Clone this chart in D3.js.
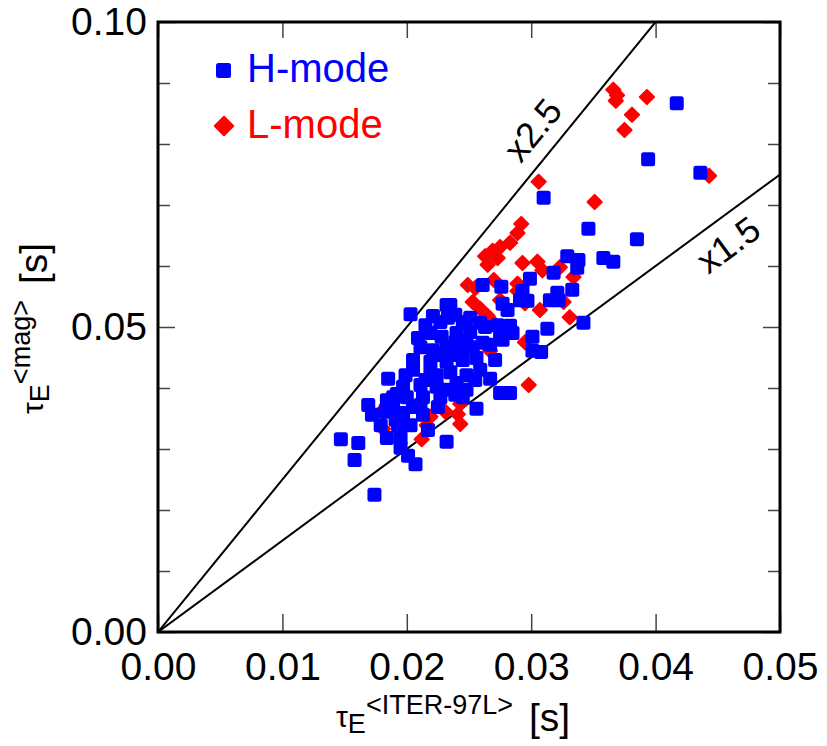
<!DOCTYPE html>
<html>
<head>
<meta charset="utf-8">
<script src="https://cdn.jsdelivr.net/npm/d3@7"></script>
<style>
  body { margin: 0; background: #fff; }
  svg text { font-family: "Liberation Sans", Arial, sans-serif; }
</style>
</head>
<body>
<svg id="chart" width="827" height="746"></svg>
<script>
// H-mode points (tau_E ITER-97L, tau_E mag) in seconds
const hX = [0.0417, 0.0394, 0.0436, 0.0310, 0.0346, 0.0385, 0.0358, 0.0366, 0.0329, 0.0338,
  0.0337, 0.0299, 0.0318, 0.0333, 0.0321, 0.0315, 0.0342, 0.0313, 0.0301, 0.0301,
  0.0308, 0.0261, 0.0276, 0.0293, 0.0297, 0.0277, 0.0281, 0.0235, 0.0259, 0.0283,
  0.0275, 0.0277, 0.0267, 0.0275, 0.0283, 0.0256, 0.0247, 0.0273, 0.0203, 0.0221,
  0.0232, 0.0233, 0.0245, 0.0219, 0.0228, 0.0240, 0.0251, 0.0211, 0.0221, 0.0232,
  0.0243, 0.0253, 0.0261, 0.0205, 0.0219, 0.0232, 0.0245, 0.0256, 0.0205, 0.0219,
  0.0235, 0.0248, 0.0185, 0.0197, 0.0211, 0.0224, 0.0240, 0.0248, 0.0189, 0.0200,
  0.0213, 0.0227, 0.0245, 0.0189, 0.0205, 0.0225, 0.0197, 0.0213, 0.0169, 0.0172,
  0.0147, 0.0161, 0.0158, 0.0174, 0.0184, 0.0195, 0.0195, 0.0201, 0.0207, 0.0232,
  0.0183, 0.0184, 0.0192, 0.0263, 0.0285, 0.0322, 0.0291, 0.0227, 0.0239, 0.0215,
  0.0231, 0.0191, 0.0179, 0.0203, 0.0217, 0.0215, 0.0227, 0.0239, 0.0251, 0.0209,
  0.0236, 0.0248, 0.0259, 0.0224, 0.0239, 0.0255, 0.0211, 0.0193, 0.0199, 0.0267,
  0.0271];
const hY = [0.0867, 0.0775, 0.0753, 0.0712, 0.0661, 0.0644, 0.0613, 0.0607, 0.0616, 0.0610,
  0.0597, 0.0579, 0.0589, 0.0561, 0.0556, 0.0544, 0.0507, 0.0497, 0.0484, 0.0461,
  0.0459, 0.0569, 0.0566, 0.0559, 0.0543, 0.0538, 0.0528, 0.0536, 0.0507, 0.0502,
  0.0489, 0.0479, 0.0415, 0.0392, 0.0392, 0.0366, 0.0508, 0.0503, 0.0521, 0.0518,
  0.0536, 0.0515, 0.0507, 0.0490, 0.0484, 0.0490, 0.0492, 0.0467, 0.0462, 0.0467,
  0.0462, 0.0467, 0.0474, 0.0446, 0.0443, 0.0443, 0.0446, 0.0449, 0.0430, 0.0425,
  0.0426, 0.0421, 0.0415, 0.0402, 0.0405, 0.0402, 0.0408, 0.0397, 0.0385, 0.0385,
  0.0385, 0.0385, 0.0385, 0.0369, 0.0369, 0.0369, 0.0359, 0.0356, 0.0372, 0.0356,
  0.0316, 0.0310, 0.0282, 0.0225, 0.0318, 0.0318, 0.0302, 0.0289, 0.0275, 0.0312,
  0.0361, 0.0380, 0.0390, 0.0500, 0.0490, 0.0544, 0.0544, 0.0454, 0.0475, 0.0413,
  0.0397, 0.0348, 0.0339, 0.0339, 0.0331, 0.0503, 0.0508, 0.0520, 0.0515, 0.0482,
  0.0454, 0.0479, 0.0430, 0.0421, 0.0389, 0.0413, 0.0372, 0.0339, 0.0421, 0.0471,
  0.0446];

// L-mode points
const lX = [0.0366, 0.0369, 0.0368, 0.0393, 0.0381, 0.0375, 0.0443, 0.0306, 0.0351, 0.0292,
  0.0289, 0.0283, 0.0275, 0.0269, 0.0263, 0.0273, 0.0265, 0.0249, 0.0255, 0.0253,
  0.0259, 0.0265, 0.0293, 0.0305, 0.0309, 0.0289, 0.0289, 0.0295, 0.0307, 0.0323,
  0.0334, 0.0326, 0.0331, 0.0275, 0.0269, 0.0295, 0.0267, 0.0298, 0.0243, 0.0241,
  0.0243, 0.0212, 0.0216, 0.0181, 0.0184, 0.0219, 0.0181, 0.0231, 0.0270];
const lY = [0.0889, 0.0880, 0.0871, 0.0877, 0.0848, 0.0823, 0.0748, 0.0738, 0.0705, 0.0669,
  0.0654, 0.0638, 0.0631, 0.0625, 0.0616, 0.0613, 0.0602, 0.0569, 0.0564, 0.0541,
  0.0530, 0.0518, 0.0605, 0.0607, 0.0593, 0.0571, 0.0559, 0.0539, 0.0528, 0.0598,
  0.0582, 0.0541, 0.0516, 0.0544, 0.0508, 0.0475, 0.0461, 0.0405, 0.0374, 0.0357,
  0.0341, 0.0316, 0.0339, 0.0333, 0.0372, 0.0353, 0.0364, 0.0361, 0.0577];

// reference lines  tau_mag = k * tau_ITER
const lineFactors = [2.5, 1.5];
const lineLabels = ['x2.5', 'x1.5'];
const lineLabelX = [0.0318, 0.0446];

const xTicks = [0, 0.01, 0.02, 0.03, 0.04, 0.05];
const yLabelTicks = [0, 0.05, 0.10];
const yMinorTicks = [0.01, 0.02, 0.03, 0.04, 0.06, 0.07, 0.08, 0.09];

const svg = d3.select('#chart');
const plotLeft = 158, plotRight = 780, plotTop = 22, plotBottom = 632;

const x = d3.scaleLinear().domain([0, 0.05]).range([plotLeft, plotRight]);
const y = d3.scaleLinear().domain([0, 0.10]).range([plotBottom, plotTop]);

svg.append('defs').append('clipPath').attr('id', 'plot')
  .append('rect').attr('x', plotLeft).attr('y', plotTop)
  .attr('width', plotRight - plotLeft).attr('height', plotBottom - plotTop);

// axes (inward ticks)
function styleAxis(g) {
  g.select('.domain').remove();
  g.selectAll('.tick line').attr('stroke', '#444').attr('stroke-width', 1.5);
  g.selectAll('.tick text').attr('fill', '#000')
    .style('font-family', '"Liberation Sans", Arial, sans-serif').style('font-size', '39px');
}

svg.append('g').attr('transform', `translate(0,${plotBottom})`)
  .call(d3.axisBottom(x).tickValues(xTicks).tickSize(-18).tickPadding(20).tickFormat(d3.format('.2f')))
  .call(styleAxis);
svg.append('g').attr('transform', `translate(0,${plotTop})`)
  .call(d3.axisTop(x).tickValues(xTicks).tickSize(-16).tickFormat(''))
  .call(styleAxis);
svg.append('g').attr('transform', `translate(${plotLeft},0)`)
  .call(d3.axisLeft(y).tickValues(yLabelTicks).tickSize(-17).tickPadding(11).tickFormat(d3.format('.2f')))
  .call(styleAxis);
svg.append('g').attr('transform', `translate(${plotLeft},0)`)
  .call(d3.axisLeft(y).tickValues(yMinorTicks).tickSize(-12).tickFormat(''))
  .call(styleAxis);
svg.append('g').attr('transform', `translate(${plotRight},0)`)
  .call(d3.axisRight(y).tickValues(yLabelTicks).tickSize(-17).tickFormat(''))
  .call(styleAxis);
svg.append('g').attr('transform', `translate(${plotRight},0)`)
  .call(d3.axisRight(y).tickValues(yMinorTicks).tickSize(-12).tickFormat(''))
  .call(styleAxis);

// reference lines
const lines = svg.append('g').attr('clip-path', 'url(#plot)');
lineFactors.forEach(k => {
  lines.append('line')
    .attr('x1', x(0)).attr('y1', y(0))
    .attr('x2', x(0.05)).attr('y2', y(0.05 * k))
    .attr('stroke', '#000').attr('stroke-width', 2);
});

lineFactors.forEach((k, i) => {
  const px = x(lineLabelX[i]), py = y(lineLabelX[i] * k);
  const ang = Math.atan2(y(0) - y(k * 0.01), x(0.01) - x(0)) * 180 / Math.PI;
  svg.append('text')
    .attr('transform', `translate(${px},${py}) rotate(${-ang})`)
    .attr('y', i === 0 ? -27 : 26)
    .attr('text-anchor', 'middle')
    .attr('dominant-baseline', 'central')
    .style('font-size', '36px')
    .text(lineLabels[i]);
});

// markers: L-mode first, H-mode on top
const dots = svg.append('g').attr('clip-path', 'url(#plot)');
dots.selectAll('rect.l').data(d3.range(lX.length)).join('rect')
  .attr('class', 'l')
  .attr('width', 12).attr('height', 12).attr('rx', 1)
  .attr('transform', i => `translate(${x(lX[i])},${y(lY[i])}) rotate(45) translate(-6,-6)`)
  .attr('fill', '#ff0000');
dots.selectAll('rect.h').data(d3.range(hX.length)).join('rect')
  .attr('class', 'h')
  .attr('x', i => x(hX[i]) - 7).attr('y', i => y(hY[i]) - 7)
  .attr('width', 14).attr('height', 14).attr('rx', 2.5)
  .attr('fill', '#0000ff');

// frame
svg.append('rect').attr('x', plotLeft).attr('y', plotTop)
  .attr('width', plotRight - plotLeft).attr('height', plotBottom - plotTop)
  .attr('fill', 'none').attr('stroke', '#000').attr('stroke-width', 3);

// legend
const legend = svg.append('g');
legend.append('rect').attr('x', 216).attr('y', 63).attr('width', 15).attr('height', 15)
  .attr('rx', 2.5).attr('fill', '#0000ff');
legend.append('text').attr('x', 247).attr('y', 82).attr('fill', '#0000ff')
  .style('font-size', '40px').text('H-mode');
legend.append('rect').attr('width', 15).attr('height', 15).attr('rx', 1)
  .attr('transform', 'translate(224,126) rotate(45) translate(-7.5,-7.5)')
  .attr('fill', '#ff0000');
legend.append('text').attr('x', 247).attr('y', 138).attr('fill', '#ff0000')
  .style('font-size', '40px').text('L-mode');

// axis titles
function axisTitle(g, sup) {
  const t = g.append('text').attr('x', 0).attr('y', 0);
  t.append('tspan').style('font-size', '30px').text('τ');
  t.append('tspan').style('font-size', '27px').attr('dy', 6).text('E');
  t.append('tspan').style('font-size', '27px').attr('dy', -19).text(sup);
  t.append('tspan').style('font-size', '39px').attr('dy', 17).attr('dx', 16).text('[s]');
}
axisTitle(svg.append('g').attr('transform', 'translate(336,727)'), '<ITER-97L>');
axisTitle(svg.append('g').attr('transform', 'translate(43,414) rotate(-90)'), '<mag>');
</script>
</body>
</html>
